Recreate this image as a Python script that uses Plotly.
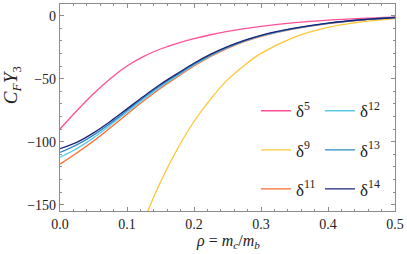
import plotly.graph_objects as go

# rho = m_c / m_b
rho = [0, 0.025, 0.05, 0.075, 0.1, 0.125, 0.15, 0.175, 0.2, 0.225, 0.25,
       0.275, 0.3, 0.35, 0.4, 0.45, 0.5]
rho9 = [0.1, 0.125, 0.15, 0.175, 0.2, 0.225, 0.25, 0.275, 0.3, 0.35, 0.4,
        0.45, 0.5]

d5 = [-90, -75.5, -62, -50, -40, -32.3, -26.5, -22, -18.3, -15.2, -12.6,
      -10.4, -8.5, -5.6, -3.6, -2.2, -1.2]
d9 = [-200, -163, -132, -106, -84, -66, -51, -39.5, -30, -17.0, -9.3,
      -5.0, -2.4]
d11 = [-117.8, -109, -99.5, -89, -78.2, -67.6, -57.6, -48.6, -40, -32.4,
       -26, -20.7, -16.4, -10.5, -6.3, -3.5, -1.6]
d12 = [-112.3, -105.5, -97, -87, -76.6, -66.2, -56.4, -47.6, -39.2, -31.7,
       -25.5, -20.3, -16.1, -10.3, -6.2, -3.4, -1.6]
d13 = [-108.5, -102.5, -94.8, -85.5, -75.3, -65, -55.4, -46.8, -38.5, -31.2,
       -25.1, -20, -15.9, -10.2, -6.1, -3.4, -1.5]
d14 = [-105.5, -100.5, -93, -84, -74, -64, -54.5, -46, -37.8, -30.6, -24.6,
       -19.6, -15.6, -10, -6, -3.3, -1.5]

x_ticks = [0.0, 0.1, 0.2, 0.3, 0.4, 0.5]
x_labels = ["0.0", "0.1", "0.2", "0.3", "0.4", "0.5"]
y_ticks = [0, -50, -100, -150]

series = [
    ("δ<sup>5</sup>", rho, d5, "#ff4f98", "legend"),
    ("δ<sup>9</sup>", rho9, d9, "#ffc636", "legend"),
    ("δ<sup>11</sup>", rho, d11, "#ff6a2c", "legend"),
    ("δ<sup>12</sup>", rho, d12, "#5ccbea", "legend2"),
    ("δ<sup>13</sup>", rho, d13, "#2f89c9", "legend2"),
    ("δ<sup>14</sup>", rho, d14, "#1c2478", "legend2"),
]

fig = go.Figure()
for i, (name, xs, ys, col, lg) in enumerate(series):
    fig.add_trace(go.Scatter(
        x=xs, y=ys, mode="lines", name=name,
        line=dict(color=col, width=1.3, shape="spline", smoothing=1.0),
        legend=lg, legendgroup=f"g{i}",
    ))

SERIF = "Liberation Serif, DejaVu Serif, serif"
axis_common = dict(
    showgrid=False, zeroline=False, showline=True, linecolor="#8c8c8c",
    linewidth=1.3, mirror="allticks", ticks="inside", ticklen=4,
    tickwidth=1, tickcolor="#8c8c8c",
    tickfont=dict(family=SERIF, size=14, color="#222"),
)

fig.update_layout(
    width=407, height=254,
    margin=dict(l=60, r=9, t=3, b=43),
    paper_bgcolor="white", plot_bgcolor="white",
    xaxis=dict(range=[0, 0.5], tickvals=x_ticks, ticktext=x_labels,
               minor=dict(dtick=0.02, tick0=0, ticks="inside", ticklen=2,
                          tickcolor="#8c8c8c"),
               **axis_common),
    yaxis=dict(range=[-155, 9.2], tickvals=y_ticks,
               minor=dict(dtick=10, tick0=0, ticks="inside", ticklen=2,
                          tickcolor="#8c8c8c"),
               **axis_common),
    legend=dict(x=0.585, y=0.569, xanchor="left", yanchor="top",
                bgcolor="rgba(0,0,0,0)", tracegroupgap=14,
                font=dict(family=SERIF, size=17, color="#222")),
    legend2=dict(x=0.776, y=0.569, xanchor="left", yanchor="top",
                 bgcolor="rgba(0,0,0,0)", tracegroupgap=14,
                 font=dict(family=SERIF, size=17, color="#222")),
    annotations=[
        dict(text="<i>C<sub>F</sub>Y</i><sub>3</sub>", xref="paper",
             yref="paper", x=-0.145, y=0.61, xanchor="center",
             yanchor="middle", textangle=-90, showarrow=False,
             font=dict(family=SERIF, size=19, color="#222")),
        dict(text="<i>ρ</i> = <i>m<sub>c</sub></i>/<i>m<sub>b</sub></i>",
             xref="paper", yref="paper", x=0.5, y=-0.145, xanchor="center",
             yanchor="middle", showarrow=False,
             font=dict(family=SERIF, size=16, color="#222")),
    ],
)

fig.write_html("out.html", config={"displayModeBar": False},
               post_script="document.body.style.margin='0px';")
